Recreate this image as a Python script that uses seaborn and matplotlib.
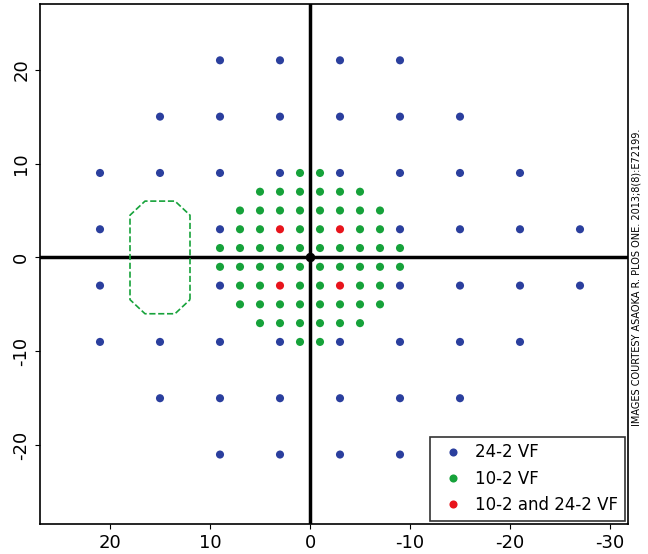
import matplotlib
matplotlib.use("Agg")
import matplotlib.pyplot as plt
import seaborn as sns
import pandas as pd

plt.rcParams["axes.unicode_minus"] = False

# 24-2 VF test points (x, y)
rows_242 = {21: [9, 3, -3, -9], 15: [15, 9, 3, -3, -9, -15], 9: [21, 15, 9, 3, -3, -9, -15, -21],
            3: [21, 9, -9, -15, -21, -27], -3: [21, 9, -9, -15, -21, -27],
            -9: [21, 15, 9, 3, -3, -9, -15, -21], -15: [15, 9, 3, -3, -9, -15], -21: [9, 3, -3, -9]}
# 10-2 VF test points
rows_102 = {9: [1, -1], 7: [5, 3, 1, -1, -3, -5], 5: [7, 5, 3, 1, -1, -3, -5, -7],
            3: [7, 5, 1, -1, -5, -7], 1: [9, 7, 5, 3, 1, -1, -3, -5, -7, -9]}
both_x = [3, -3, 3, -3]
both_y = [3, 3, -3, -3]
blind_x = [12, 12, 13.5, 16.5, 18, 18, 16.5, 13.5, 12]
blind_y = [-4.5, 4.5, 6, 6, 4.5, -4.5, -6, -6, -4.5]

recs = []
for y, xs in rows_242.items():
    recs += [(x, y, "24-2 VF") for x in xs]
for y, xs in rows_102.items():
    recs += [(x, y, "10-2 VF") for x in xs] + [(x, -y, "10-2 VF") for x in xs]
recs += [(x, y, "10-2 and 24-2 VF") for x, y in zip(both_x, both_y)]
df = pd.DataFrame(recs, columns=["x", "y", "test"])

fig = plt.figure(figsize=(6.48, 5.54), dpi=100)
ax = fig.add_axes([40/648, 30/554, 588/648, 520/554])
ax.axhline(0, color="black", lw=2.5, zorder=1)
ax.axvline(0, color="black", lw=2.5, zorder=1)
sns.scatterplot(data=df, x="x", y="y", hue="test",
                palette={"24-2 VF": "#2b3f9e", "10-2 VF": "#16a23a", "10-2 and 24-2 VF": "#e8141c"},
                s=34, edgecolor="none", ax=ax, zorder=3)
ax.scatter([0], [0], color="black", s=34, zorder=4)
ax.plot(blind_x, blind_y, ls="--", color="#16a23a", lw=1.2)
ax.set_xlim(27, -31.8)
ax.set_ylim(-28.4, 27)
ax.set_xticks([20, 10, 0, -10, -20, -30])
ax.set_yticks([-20, -10, 0, 10, 20])
ax.set_xlabel(""); ax.set_ylabel("")
ax.tick_params(labelsize=13)
for lab in ax.get_yticklabels():
    lab.set_rotation(90); lab.set_va("center")
for s in ax.spines.values():
    s.set_linewidth(1.2)
leg = ax.legend(loc="lower right", fontsize=12, frameon=True, fancybox=False,
                edgecolor="black", handletextpad=0.3, borderaxespad=0.2, markerscale=1)
leg.get_frame().set_linewidth(1.2)
fig.text(0.982, 0.5, "IMAGES COURTESY ASAOKA R. PLOS ONE. 2013;8(8):E72199.",
         rotation=90, ha="center", va="center", fontsize=7)
fig.savefig("out.png", dpi=100)
